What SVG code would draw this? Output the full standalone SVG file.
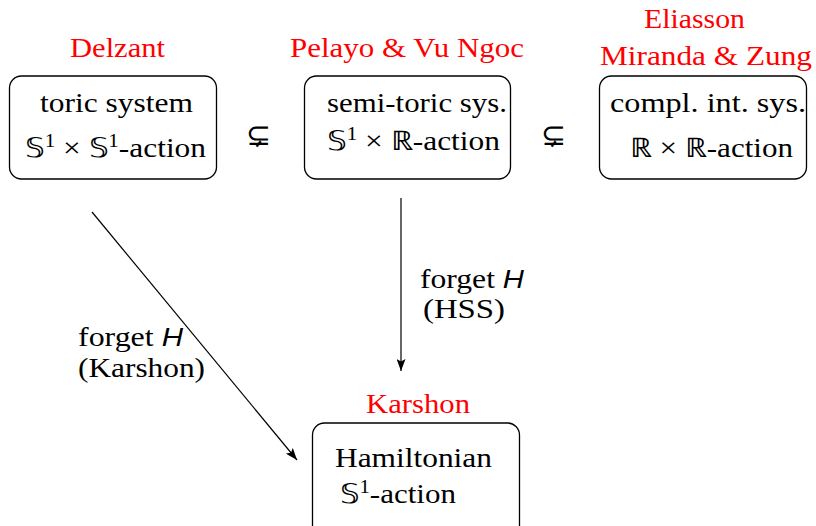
<svg xmlns="http://www.w3.org/2000/svg" width="816" height="526" viewBox="0 0 816 526">
<defs>
<style>
.box{fill:#fff;stroke:#000;stroke-width:1.3}
.sup{font-size:18px}
.edge{stroke:#000;stroke-width:1.2;fill:none}
</style>
<marker id="ah" viewBox="0 0 12 9" refX="12" refY="4.5" markerWidth="12" markerHeight="9" markerUnits="userSpaceOnUse" orient="auto">
<path d="M0,0 L12,4.5 L0,9 L2.5,4.5 Z" fill="#000"/>
</marker>
</defs>
<rect width="816" height="526" fill="#fff"/>
<g font-family="Liberation Serif, serif" font-size="27">
<g id="toric">
<text fill="#ff0000" x="70" y="57" textLength="95" lengthAdjust="spacingAndGlyphs">Delzant</text>
<rect class="box" x="9.5" y="76" width="207" height="103" rx="12"/>
<text x="40" y="112" textLength="153" lengthAdjust="spacingAndGlyphs">toric system</text>
<text x="25" y="157" textLength="181" lengthAdjust="spacingAndGlyphs">𝕊<tspan class="sup" dy="-10">1</tspan><tspan dy="10"> × 𝕊</tspan><tspan class="sup" dy="-10">1</tspan><tspan dy="10">-action</tspan></text>
</g>
<g id="semitoric">
<text fill="#ff0000" x="290" y="57" textLength="234" lengthAdjust="spacingAndGlyphs">Pelayo &amp; Vu Ngoc</text>
<rect class="box" x="304.5" y="76" width="206" height="103" rx="12"/>
<text x="327" y="112" textLength="180" lengthAdjust="spacingAndGlyphs">semi-toric sys.</text>
<text x="327" y="150" textLength="173" lengthAdjust="spacingAndGlyphs">𝕊<tspan class="sup" dy="-10">1</tspan><tspan dy="10"> × ℝ-action</tspan></text>
</g>
<g id="cis">
<text fill="#ff0000" x="644" y="28" textLength="101" lengthAdjust="spacingAndGlyphs">Eliasson</text>
<text fill="#ff0000" x="600" y="65" textLength="212" lengthAdjust="spacingAndGlyphs">Miranda &amp; Zung</text>
<rect class="box" x="599.5" y="76" width="207" height="103" rx="12"/>
<text x="610" y="112" textLength="196" lengthAdjust="spacingAndGlyphs">compl. int. sys.</text>
<text x="630" y="157" textLength="163" lengthAdjust="spacingAndGlyphs">ℝ × ℝ-action</text>
</g>
<g id="hamiltonian">
<text fill="#ff0000" x="366" y="413" textLength="104" lengthAdjust="spacingAndGlyphs">Karshon</text>
<rect class="box" x="312.5" y="423" width="207" height="120" rx="12"/>
<text x="335" y="467" textLength="157" lengthAdjust="spacingAndGlyphs">Hamiltonian</text>
<text x="340" y="503" textLength="116" lengthAdjust="spacingAndGlyphs">𝕊<tspan class="sup" dy="-10">1</tspan><tspan dy="10">-action</tspan></text>
</g>
<g id="subset1"><text font-family="DejaVu Serif, serif" font-size="30" text-anchor="middle" x="258" y="145">⊊</text></g>
<g id="subset2"><text font-family="DejaVu Serif, serif" font-size="30" text-anchor="middle" x="553" y="145">⊊</text></g>
<g id="connectors">
<line class="edge" x1="92" y1="212" x2="297" y2="460" marker-end="url(#ah)"/>
<line class="edge" x1="401" y1="198" x2="401" y2="371" marker-end="url(#ah)"/>
</g>
<g id="labels">
<text x="78" y="346" textLength="105" lengthAdjust="spacingAndGlyphs">forget <tspan font-family="Liberation Sans, sans-serif" font-style="italic" font-size="25">H</tspan></text>
<text x="78" y="377" textLength="127" lengthAdjust="spacingAndGlyphs">(Karshon)</text>
<text x="420" y="288" textLength="104" lengthAdjust="spacingAndGlyphs">forget <tspan font-family="Liberation Sans, sans-serif" font-style="italic" font-size="25">H</tspan></text>
<text x="423" y="318" textLength="82" lengthAdjust="spacingAndGlyphs">(HSS)</text>
</g>
</g>
</svg>
